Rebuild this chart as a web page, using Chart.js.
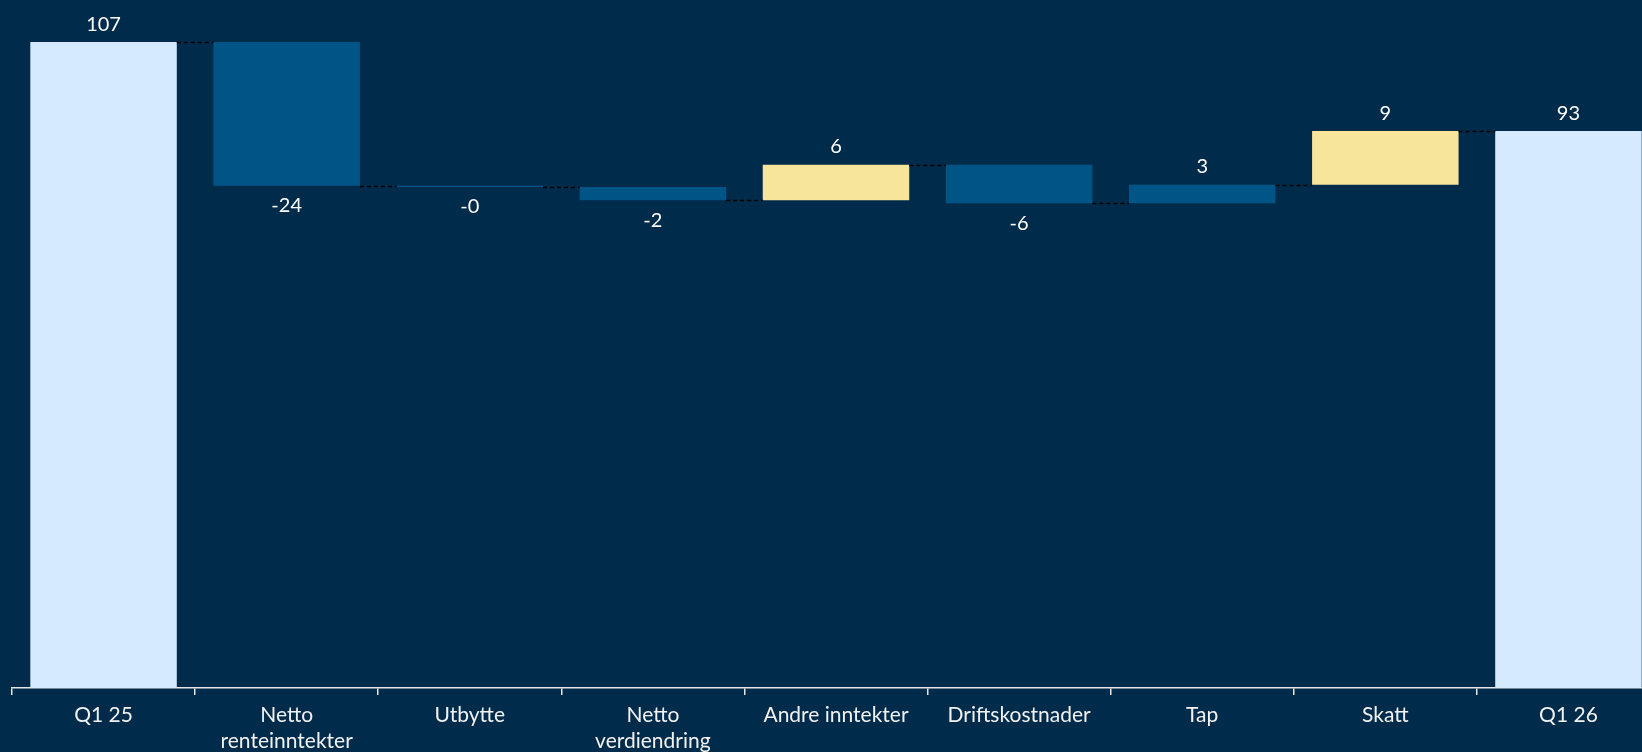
<!DOCTYPE html>
<html>
<head>
<meta charset="utf-8">
<script src="https://cdn.jsdelivr.net/npm/chart.js@4"></script>
<style>
  html, body { margin: 0; padding: 0; background: #002b4b; overflow: hidden; }
  #wrap { width: 1662px; height: 752px; position: relative; }
</style>
</head>
<body>
<div id="wrap"><canvas id="chart"></canvas></div>
<script>
// waterfall: opening result, the movements, closing result
var categories = [['Q1 25'], ['Netto', 'renteinntekter'], ['Utbytte'], ['Netto', 'verdiendring'],
                  ['Andre inntekter'], ['Driftskostnader'], ['Tap'], ['Skatt'], ['Q1 26']];
var startValue = 107.4;
var changes = [-23.9, -0.2, -2.2, 5.9, -6.4, 3.1, 8.9];
var endValue = 92.6;
var barKinds = ['total', 'down', 'down', 'down', 'up', 'down', 'down', 'up', 'total'];

var kindColors = { total: '#d5eafd', down: '#005587', up: '#f8e59c' };

// floating bars [from, to]
var bars = [[0, startValue]];
var level = startValue;
changes.forEach(function (c) {
  bars.push([level, level + c]);
  level += c;
});
bars.push([0, endValue]);
var values = [startValue].concat(changes, [endValue]);

var waterfallExtras = {
  id: 'waterfallExtras',
  afterDatasetsDraw: function (chart) {
    var ctx = chart.ctx;
    var meta = chart.getDatasetMeta(0);
    var y = chart.scales.y;

    // dashed connectors between neighbouring bars
    ctx.save();
    ctx.setLineDash([4, 3]);
    ctx.strokeStyle = '#000000';
    ctx.lineWidth = 1.5;
    for (var i = 0; i < bars.length - 1; i++) {
      var a = meta.data[i], b = meta.data[i + 1];
      var yy = Math.round(y.getPixelForValue(bars[i][1])) + 0.5;
      ctx.beginPath();
      ctx.moveTo(a.x + a.width / 2, yy);
      ctx.lineTo(b.x - b.width / 2, yy);
      ctx.stroke();
    }
    ctx.restore();

    // value labels
    ctx.save();
    ctx.fillStyle = '#ffffff';
    ctx.font = '20px Lato';
    ctx.textAlign = 'center';
    ctx.textBaseline = 'middle';
    values.forEach(function (v, i) {
      var el = meta.data[i];
      var hi = Math.max(bars[i][0], bars[i][1]);
      var lo = Math.min(bars[i][0], bars[i][1]);
      var txt = v.toFixed(0);
      if (v >= 0) {
        ctx.fillText(txt, el.x, y.getPixelForValue(hi) - 18);
      } else {
        ctx.fillText(txt, el.x, y.getPixelForValue(lo) + 20);
      }
    });
    ctx.restore();
  }
};

new Chart(document.getElementById('chart'), {
  type: 'bar',
  data: {
    labels: categories,
    datasets: [{
      data: bars,
      backgroundColor: barKinds.map(function (k) { return kindColors[k]; }),
      barPercentage: 0.8,
      categoryPercentage: 1.0
    }]
  },
  options: {
    responsive: true,
    maintainAspectRatio: false,
    animation: false,
    layout: { padding: { left: 12, right: 2, top: 0, bottom: 0 } },
    plugins: { legend: { display: false }, tooltip: { enabled: false } },
    scales: {
      x: {
        grid: { offset: true, drawOnChartArea: false, drawTicks: true, tickLength: 7, color: '#e6e6e6', lineWidth: 1.5 },
        border: { display: true, color: '#e6e6e6', width: 1.5 },
        ticks: { color: '#f2f2f2', font: { family: 'Lato', size: 21, lineHeight: 1.2 }, padding: 8, maxRotation: 0, autoSkip: false },
        afterFit: function (s) { s.height = 64; }
      },
      y: { display: false, min: 0, max: 114.4 }
    }
  },
  plugins: [waterfallExtras]
});
</script>
</body>
</html>
